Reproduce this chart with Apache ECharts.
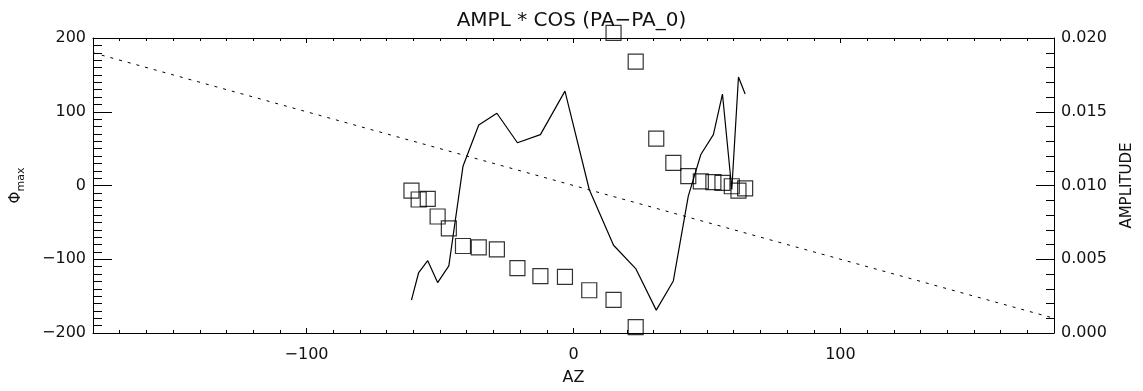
<!DOCTYPE html>
<html>
<head>
<meta charset="utf-8">
<script src="https://cdn.jsdelivr.net/npm/echarts@6/dist/echarts.min.js"></script>
<style>
html,body{margin:0;padding:0;background:#fff;}
#c{width:1143px;height:391px;}
</style>
</head>
<body>
<div id="c"></div>
<script>
// Azimuth of each measurement (shared by squares and amplitude line)
var az = [-60.7,-58,-54.6,-50.9,-46.7,-41.4,-35.5,-28.7,-21,-12.4,-3.2,5.9,15,23.3,31,37.4,43,47.7,52.4,55.8,59.3,61.8,64.3];
// Phi_max values (squares, left axis)
var phi = [-7,-19,-18,-42,-58,-82,-84,-86.5,-112,-123,-124,-142,-155,-192,63.5,30.6,12.6,5.5,4.5,3.6,-1,-7,-4];
// Wrapped duplicates (phi + 360)
var wrapAz = [15,23.3];
var wrapPhi = [207,168];
// Amplitude (solid line, right axis)
var ampl = [0.00223,0.0041,0.0049,0.00342,0.00455,0.0113,0.0141,0.0149,0.0129,0.01345,0.0164,0.00973,0.00595,0.00437,0.00155,0.00353,0.00928,0.0121,0.01345,0.0162,0.00973,0.01735,0.0162];
// Dotted reference line
var refAz = [-180,180];
var refPhi = [180,-180];
// Tick labels
var xMajor = [-100,0,100];

var FONT = 'DejaVu Sans';
var TXT = '#111';

var sq = az.map(function(a,i){return [a,phi[i]];});
wrapAz.forEach(function(a,i){sq.push([a,wrapPhi[i]]);});
var amp = az.map(function(a,i){return [a,ampl[i]];});
var ref = refAz.map(function(a,i){return [a,refPhi[i]];});

function xa(pos, major, labels){
  return {
    type:'value', position:pos, min:-180, max:180, interval:10,
    axisLine:{show:major, onZero:false, lineStyle:{color:'#000',width:1}},
    axisTick:major ? {show:true, inside:true, length:5, customValues:xMajor, lineStyle:{color:'#000'}}
                   : {show:true, inside:true, length:3, lineStyle:{color:'#000'}},
    axisLabel:labels ? {show:true, customValues:xMajor, margin:14, fontFamily:FONT, fontSize:16, color:TXT,
                        formatter:function(v){return v<0?'\u2212'+Math.abs(v):String(v);}} : {show:false},
    splitLine:{show:false},
    name: labels ? 'AZ' : '', nameLocation:'middle', nameGap:37,
    nameTextStyle:{fontFamily:FONT, fontSize:16, color:TXT}
  };
}

var chart = echarts.init(document.getElementById('c'), null, {renderer:'canvas'});
chart.setOption({
  animation:false,
  backgroundColor:'#fff',
  title:{text:'AMPL * COS (PA\u2212PA_0)', left:'center', top:6,
         textStyle:{fontFamily:FONT, fontSize:20, fontWeight:'normal', color:TXT}},
  grid:{left:93, right:87, top:38, bottom:57},
  xAxis:[ xa('bottom',true,true), xa('bottom',false,false), xa('top',true,false), xa('top',false,false) ],
  yAxis:[
    {type:'value', position:'left', min:-200, max:200, interval:100,
     axisLine:{show:true, onZero:false, lineStyle:{color:'#000'}},
     axisTick:{show:true, inside:true, length:19, lineStyle:{color:'#000'}},
     minorTick:{show:true, splitNumber:10, length:9, lineStyle:{color:'#000'}},
     axisLabel:{margin:7, fontFamily:FONT, fontSize:16, color:TXT,
                formatter:function(v){return v<0?'\u2212'+Math.abs(v):String(v);}},
     splitLine:{show:false}, minorSplitLine:{show:false},
     name:'{a|\u03A6}{b|max}', nameLocation:'middle', nameGap:66, nameRotate:90,
     nameTextStyle:{rich:{a:{fontFamily:FONT, fontSize:15, color:TXT, padding:[0,0,0,0]},
                          b:{fontFamily:FONT, fontSize:11, color:TXT, padding:[10,0,0,0]}}}
    },
    {type:'value', position:'right', min:0, max:0.02, interval:0.005,
     axisLine:{show:true, onZero:false, lineStyle:{color:'#000'}},
     axisTick:{show:true, inside:true, length:18, lineStyle:{color:'#000'}},
     minorTick:{show:true, splitNumber:5, length:8, lineStyle:{color:'#000'}},
     axisLabel:{margin:7, fontFamily:FONT, fontSize:16, color:TXT,
                formatter:function(v){return v.toFixed(3);}},
     splitLine:{show:false}, minorSplitLine:{show:false},
     name:'AMPLITUDE', nameLocation:'middle', nameGap:66, nameRotate:90,
     nameTextStyle:{fontFamily:FONT, fontSize:15, color:TXT}
    }
  ],
  series:[
    {type:'line', name:'ref', xAxisIndex:0, yAxisIndex:0, data:ref, symbol:'none',
     lineStyle:{color:'#000', width:1, type:[3,6]}, silent:true},
    {type:'scatter', name:'phi', xAxisIndex:0, yAxisIndex:0, data:sq, symbol:'rect', symbolSize:15,
     clip:false,
     itemStyle:{color:'rgba(0,0,0,0)', borderColor:'#000', borderWidth:1.2}},
    {type:'line', name:'ampl', xAxisIndex:0, yAxisIndex:1, data:amp, symbol:'none',
     lineStyle:{color:'#000', width:1.2}}
  ]
});
</script>
</body>
</html>
